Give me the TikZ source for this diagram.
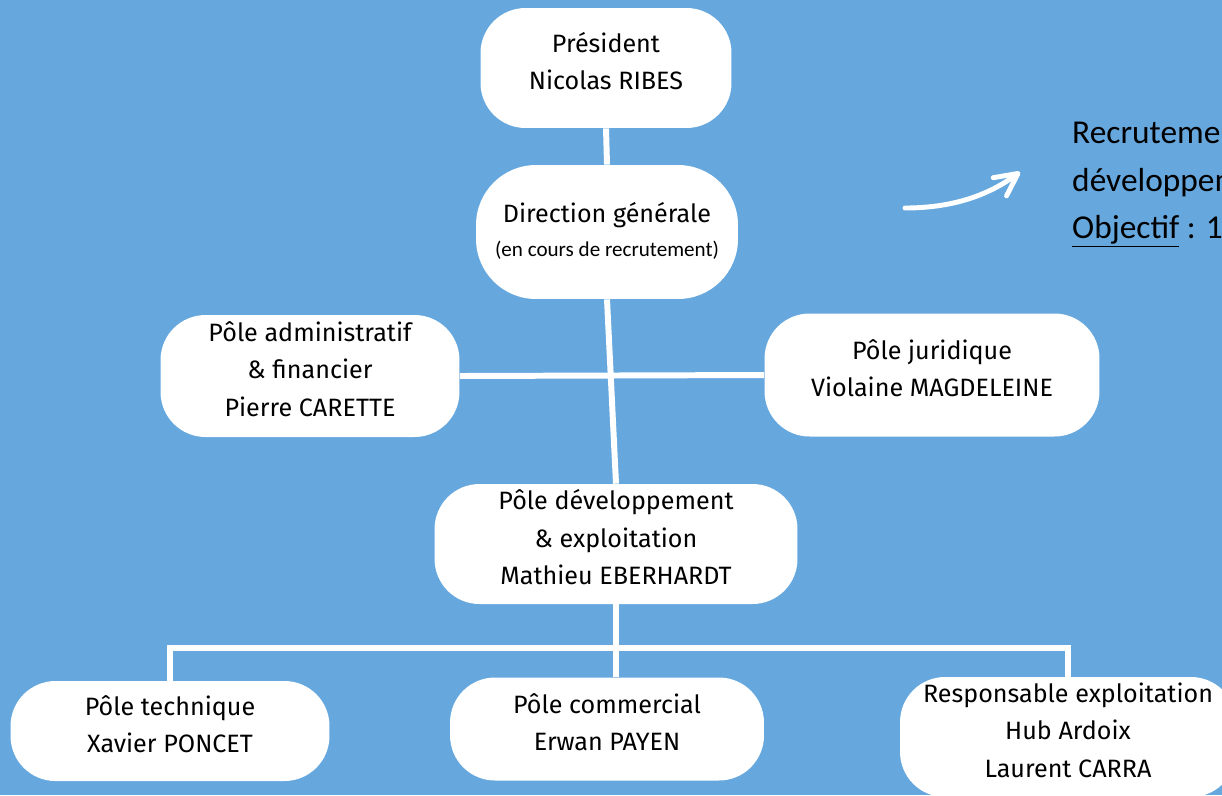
\documentclass[tikz,border=0pt]{standalone}
\usepackage{fontspec}
\setmainfont{Fira Sans}
\newfontfamily\calfont{Carlito}
\usetikzlibrary{arrows.meta, positioning}
\definecolor{orgBlue}{RGB}{102,168,222}
\tikzset{
  box/.style={fill=white, rounded corners=0.9cm, align=center, inner sep=0pt, text depth=0.28cm,
    font=\fontsize{14.3}{21.5}\selectfont},
  link/.style={draw=white, line width=3.4pt},
}

\begin{document}
\begin{tikzpicture}[x=0.02cm, y=-0.02cm]
    \fill[orgBlue] (0,0) rectangle (1222,795);
    \useasboundingbox (0,0) rectangle (1222,795);

    % Boxes
    \node[box, minimum width=5.02cm, minimum height=2.4cm] (pres) at (606,68) {Président\\Nicolas RIBES};
    \node[box, rounded corners=1.2cm, text depth=0.1cm, minimum width=5.24cm, minimum height=2.68cm] (dir) at (607,232)
        {Direction générale\\[-2pt]{\calfont\fontsize{12}{16}\selectfont (en cours de recrutement)}};
    \node[box, minimum width=5.98cm, minimum height=2.44cm] (admin) at (310,376) {Pôle administratif\\\& financier\\Pierre CARETTE};
    \node[box, minimum width=6.7cm, minimum height=2.46cm] (jur) at (932,375) {Pôle juridique\\Violaine MAGDELEINE};
    \node[box, minimum width=7.26cm, minimum height=2.4cm] (dev) at (616,544) {Pôle développement\\\& exploitation\\Mathieu EBERHARDT};
    \node[box, minimum width=6.38cm, minimum height=2cm] (tech) at (170,731) {Pôle technique\\Xavier PONCET};
    \node[box, minimum width=6.28cm, minimum height=2.06cm] (comm) at (607,729) {Pôle commercial\\Erwan PAYEN};
    \node[box, minimum width=6.72cm, minimum height=2.4cm] (resp) at (1068,737) {Responsable exploitation\\Hub Ardoix\\Laurent CARRA};

    % Links
    \draw[link] (pres.south) -- (dir.north);
    \draw[link] (dir.south) -- (dev.north);
    \draw[link] (admin.east) -- (jur.west);
    \draw[link] (dev.south) -- (dev.south |- comm.north);
    \draw[link] (tech.north) -- ++(0,-33) -| (resp.north);

    % Note
    \coordinate (arrS) at (905,208);
    \coordinate (arrE) at (1020,172);
    \draw[white, line width=2.8pt, line cap=round, -{Straight Barb[length=0.45cm, width=0.45cm, round]}]
        (arrS) .. controls (955,208) and (990,194) .. (arrE);
    \node[anchor=west, align=left, font=\calfont\fontsize{19}{27}\selectfont] (note) at (1066,185)
        {Recrutement\\développement\\\underline{Objectif} : 14};
\end{tikzpicture}
\end{document}
